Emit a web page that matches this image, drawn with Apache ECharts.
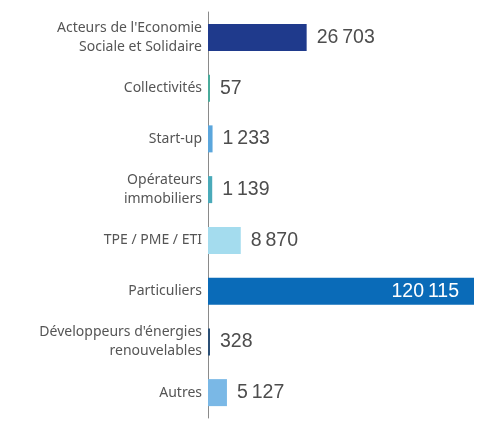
<!DOCTYPE html>
<html>
<head>
<meta charset="utf-8">
<script src="https://cdn.jsdelivr.net/npm/echarts@6/dist/echarts.min.js"></script>
<style>
  html, body { margin: 0; padding: 0; background: #fff; }
  #chart { width: 500px; height: 425px; }
</style>
</head>
<body>
<div id="chart"></div>
<script>
// catégories, de haut en bas
const categories = [
  "Acteurs de l'Economie\nSociale et Solidaire",
  'Collectivités',
  'Start-up',
  'Opérateurs\nimmobiliers',
  'TPE / PME / ETI',
  'Particuliers',
  "Développeurs d'énergies\nrenouvelables",
  'Autres'
]
const values = [26703, 57, 1233, 1139, 8870, 120115, 328, 5127]
const barColors = ['#1f3a8c', '#4aab9b', '#5ba6dc', '#4aaab9', '#a4dcee', '#0a6bb8', '#2b4f75', '#7ab8e6']

const fmt = v => String(v).replace(/\B(?=(\d{3})+(?!\d))/g, '\u2009')

const chart = echarts.init(document.getElementById('chart'), null, { renderer: 'canvas' })

chart.setOption({
  animation: false,
  grid: {
    left: 208,
    right: 26,
    top: 12,
    bottom: 7
  },
  xAxis: {
    type: 'value',
    min: 0,
    max: 72000, // la barre Particuliers dépasse et est coupée
    show: false
  },
  yAxis: {
    type: 'category',
    inverse: true,
    data: categories,
    axisLine: { show: true, lineStyle: { color: '#8a8a8a', width: 1 } },
    axisTick: { show: false },
    axisLabel: {
      margin: 6,
      color: '#555',
      fontSize: 14,
      fontFamily: 'Noto Sans',
      lineHeight: 19,
      align: 'right'
    }
  },
  series: [{
    type: 'bar',
    barWidth: 27,
    barMinHeight: 2, // petites valeurs restent visibles
    clip: true,
    data: values.map((v, i) => ({
      value: v,
      itemStyle: { color: barColors[i] },
      label: i === 5
        ? { position: 'insideRight', distance: 15, color: '#fff' }
        : {}
    })),
    label: {
      show: true,
      position: 'right',
      distance: 10,
      color: '#4d4d4d',
      fontSize: 19.5,
      fontFamily: 'Liberation Sans',
      formatter: p => fmt(p.value)
    }
  }]
})
</script>
</body>
</html>
